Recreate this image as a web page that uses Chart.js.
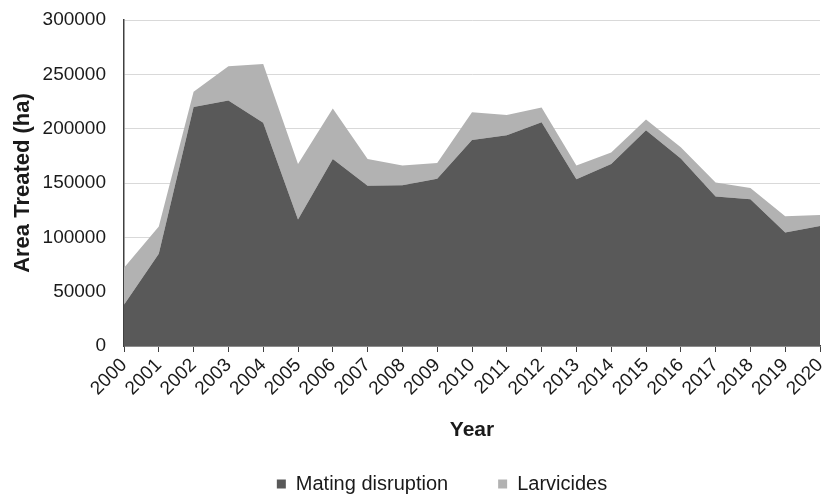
<!DOCTYPE html>
<html>
<head>
<meta charset="utf-8">
<script src="https://cdn.jsdelivr.net/npm/chart.js@4"></script>
<style>
  body { margin: 0; background: #fff; }
  #wrap { width: 822px; height: 495px; }
</style>
</head>
<body>
<div id="wrap"><canvas id="chart" width="822" height="495"></canvas></div>
<script>
const years = ['2000', '2001', '2002', '2003', '2004', '2005', '2006', '2007', '2008', '2009', '2010',
  '2011', '2012', '2013', '2014', '2015', '2016', '2017', '2018', '2019', '2020'];
const matingDisruption = [38000, 85000, 220000, 226000, 205500, 116500, 172000, 147500, 148000, 154000, 189500,
  194000, 206000, 153500, 167500, 198500, 172500, 137500, 135000, 104500, 110500];
const larvicides = [34000, 25000, 14000, 31500, 54000, 51000, 46500, 24500, 18000, 14500, 25500,
  18500, 13500, 12500, 10500, 10000, 10500, 13000, 10500, 15000, 10000];

const FONT = "'Liberation Sans', Arial, sans-serif";
const TEXT = '#1a1a1a';

// nudge the legend so it sits where the original one does
const legendNudge = {
  id: 'legendNudge',
  afterLayout(chart) {
    const lg = chart.legend;
    if (!lg) return;
    lg.left -= 30;
    lg.right -= 30;
    lg.top += 9;
    lg.bottom += 9;
  },
};

const ctx = document.getElementById('chart').getContext('2d');

new Chart(ctx, {
  type: 'line',
  data: {
    labels: years,
    datasets: [
      {
        label: 'Mating disruption',
        data: matingDisruption,
        backgroundColor: '#595959',
        borderWidth: 0,
        pointRadius: 0,
        fill: 'origin',
      },
      {
        label: 'Larvicides',
        data: larvicides,
        backgroundColor: '#b2b2b2',
        borderWidth: 0,
        pointRadius: 0,
        fill: '-1',
      },
    ],
  },
  plugins: [legendNudge],
  options: {
    responsive: false,
    animation: false,
    devicePixelRatio: 1,
    layout: { padding: { top: 20, right: 2, left: 0, bottom: 0 } },
    plugins: {
      tooltip: { enabled: false },
      legend: {
        position: 'bottom',
        fullSize: false,
        labels: {
          boxWidth: 9,
          boxHeight: 9,
          padding: 50,
          color: TEXT,
          font: { family: FONT, size: 20 },
        },
      },
    },
    scales: {
      x: {
        grid: { drawOnChartArea: false, drawTicks: true, tickLength: 6, color: '#404040' },
        border: { color: '#404040', width: 1.5 },
        ticks: {
          color: TEXT,
          font: { family: FONT, size: 19 },
          autoSkip: false,
          minRotation: 45,
          maxRotation: 45,
          padding: 2,
        },
        title: {
          display: true,
          text: 'Year',
          color: TEXT,
          font: { family: FONT, size: 21, weight: 'bold' },
          padding: { top: 4, bottom: -28 },
        },
        afterFit: (s) => {
          const lg = s.chart.legend;
          s.height = 495 - 346 - (lg && lg.height ? lg.height : 80);
          s.paddingLeft = 0;
          s.paddingRight = 0;
        },
      },
      y: {
        stacked: true,
        min: 0,
        max: 300000,
        grid: { color: '#d9d9d9', lineWidth: 1, drawTicks: false },
        border: { color: '#404040', width: 1.5 },
        ticks: {
          stepSize: 50000,
          color: TEXT,
          font: { family: FONT, size: 19 },
          padding: 18,
          callback: (v) => String(v),
        },
        title: {
          display: true,
          text: 'Area Treated (ha)',
          color: TEXT,
          font: { family: FONT, size: 22, weight: 'bold' },
          padding: { top: 10, bottom: 0 },
        },
        afterFit: (s) => {
          s.width = 124;
          s.paddingTop = 0;
          s.paddingBottom = 0;
        },
      },
    },
  },
});
</script>
</body>
</html>
